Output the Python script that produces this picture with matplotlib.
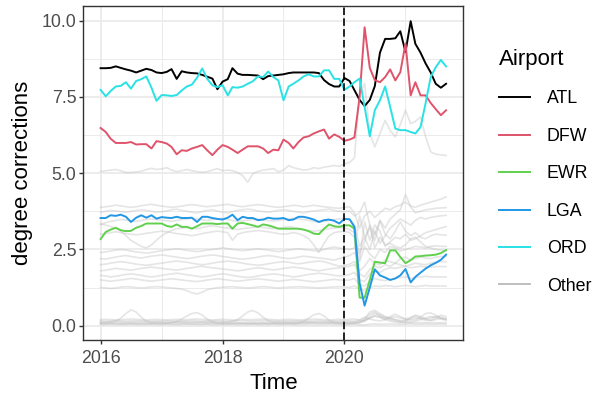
import matplotlib
matplotlib.use("Agg")
import matplotlib.pyplot as plt
import matplotlib.dates as mdates
from matplotlib.lines import Line2D
from matplotlib.ticker import MultipleLocator, FormatStrFormatter
import pandas as pd

# monthly series, Jan 2016 - Sep 2021
months = pd.date_range("2016-01-01", "2021-09-01", freq="MS")
covid_start = pd.Timestamp("2020-01-01")

atl = [8.44, 8.44, 8.45, 8.50, 8.45, 8.40, 8.36, 8.30, 8.36, 8.42, 8.38, 8.30,
       8.28, 8.32, 8.41, 8.09, 8.34, 8.30, 8.28, 8.27, 8.22, 8.16, 8.10, 7.75,
       8.00, 8.08, 8.44, 8.26, 8.22, 8.22, 8.21, 8.20, 8.08, 8.18, 8.20, 8.22,
       8.24, 8.28, 8.30, 8.30, 8.30, 8.30, 8.30, 8.28, 8.05, 7.92, 7.84, 7.84,
       8.12, 8.02, 7.72, 7.40, 7.20, 7.40, 7.85, 8.95, 9.40, 9.40, 9.42, 9.65,
       8.97, 9.98, 9.24, 8.95, 8.60, 8.30, 7.93, 7.80, 7.93]
dfw = [6.48, 6.35, 6.13, 5.99, 5.99, 5.99, 6.02, 5.94, 5.95, 5.95, 5.81, 6.05,
       6.02, 5.97, 5.86, 5.62, 5.75, 5.73, 5.81, 5.86, 5.92, 5.75, 5.59, 5.77,
       5.92, 5.86, 5.77, 5.66, 5.77, 5.88, 5.88, 5.88, 5.81, 5.66, 5.77, 5.75,
       6.10, 5.99, 5.81, 6.02, 6.17, 6.21, 6.30, 6.37, 6.43, 6.13, 6.27, 6.19,
       6.06, 6.10, 6.17, 7.50, 9.78, 8.45, 8.05, 7.98, 8.15, 8.40, 8.04, 8.31,
       9.25, 7.55, 7.98, 7.55, 7.55, 7.30, 7.10, 6.90, 7.06]
ewr = [2.84, 3.07, 3.15, 3.21, 3.13, 3.10, 3.11, 3.21, 3.27, 3.35, 3.35, 3.35,
       3.35, 3.27, 3.24, 3.32, 3.24, 3.24, 3.18, 3.26, 3.35, 3.35, 3.35, 3.33,
       3.35, 3.35, 3.18, 3.35, 3.37, 3.33, 3.29, 3.24, 3.32, 3.29, 3.24, 3.18,
       3.18, 3.18, 3.18, 3.18, 3.15, 3.10, 3.02, 3.00, 3.18, 3.32, 3.26, 3.24,
       3.29, 3.29, 3.18, 0.92, 0.92, 1.50, 2.10, 2.07, 2.05, 2.47, 2.47, 2.25,
       2.05, 2.15, 2.27, 2.28, 2.30, 2.31, 2.33, 2.38, 2.48]
lga = [3.53, 3.53, 3.62, 3.60, 3.64, 3.57, 3.40, 3.54, 3.62, 3.54, 3.62, 3.51,
       3.56, 3.54, 3.53, 3.57, 3.53, 3.53, 3.54, 3.40, 3.57, 3.57, 3.53, 3.50,
       3.48, 3.54, 3.64, 3.46, 3.57, 3.53, 3.53, 3.46, 3.48, 3.54, 3.51, 3.51,
       3.53, 3.46, 3.48, 3.57, 3.57, 3.53, 3.48, 3.40, 3.46, 3.48, 3.44, 3.35,
       3.50, 3.49, 3.24, 1.40, 0.66, 1.25, 1.85, 1.65, 1.58, 1.50, 1.55, 1.65,
       1.86, 1.42, 1.60, 1.74, 1.87, 1.98, 2.06, 2.16, 2.33]
ord_ = [7.73, 7.52, 7.69, 7.84, 7.86, 7.98, 7.77, 8.02, 8.08, 8.17, 7.80, 7.37,
        7.56, 7.55, 7.53, 7.56, 7.71, 7.84, 7.90, 8.13, 8.43, 8.09, 7.88, 7.82,
        7.88, 7.55, 7.82, 7.80, 7.84, 7.93, 8.01, 8.17, 8.15, 8.33, 8.15, 8.04,
        7.39, 7.84, 7.93, 8.04, 8.17, 8.24, 8.17, 8.17, 8.37, 8.37, 8.09, 8.09,
        7.73, 7.84, 7.98, 8.10, 7.17, 6.21, 7.06, 7.39, 7.84, 7.17, 6.46, 6.41,
        6.41, 6.35, 6.30, 6.51, 7.28, 8.15, 8.47, 8.71, 8.50]

# remaining airports, drawn in grey
other_a = [5.05, 5.08, 5.10, 5.12, 5.08, 5.02, 5.02, 5.04, 5.06, 5.12, 5.16, 5.12,
           5.14, 5.18, 5.10, 5.05, 5.08, 5.12, 5.08, 5.05, 5.03, 5.05, 5.10, 5.15,
           5.08, 5.10, 5.08, 5.02, 4.92, 4.70, 4.98, 5.06, 5.10, 5.12, 5.15, 5.05,
           5.10, 5.25, 5.18, 5.14, 5.10, 5.12, 5.18, 5.15, 5.20, 5.22, 5.25, 5.22,
           5.30, 5.35, 5.50, 7.60, 7.95, 6.30, 5.86, 6.30, 6.73, 6.40, 6.19, 6.60,
           7.06, 6.62, 6.70, 6.84, 6.20, 5.70, 5.62, 5.60, 5.58]
other_b = [3.88, 3.90, 3.92, 3.95, 3.93, 3.90, 3.88, 3.90, 3.93, 3.96, 3.98, 3.95,
           3.92, 3.90, 3.88, 3.90, 3.92, 3.95, 3.97, 3.95, 3.92, 3.90, 3.92, 3.94,
           3.96, 3.98, 3.95, 3.92, 3.90, 3.93, 3.95, 3.97, 3.95, 3.92, 3.90, 3.88,
           3.90, 3.92, 3.95, 3.93, 3.90, 3.92, 3.95, 3.92, 3.90, 3.88, 3.86, 3.85,
           3.88, 3.90, 3.70, 3.20, 3.60, 3.75, 3.55, 3.70, 3.85, 3.80, 3.90, 3.95,
           4.05, 3.92, 3.88, 3.95, 4.00, 4.05, 4.10, 4.15, 4.22]
other_c = [3.72, 3.75, 3.78, 3.76, 3.74, 3.72, 3.75, 3.78, 3.80, 3.78, 3.75, 3.72,
           3.74, 3.76, 3.80, 3.82, 3.78, 3.75, 3.72, 3.70, 3.74, 3.78, 3.80, 3.76,
           3.72, 3.70, 3.74, 3.78, 3.80, 3.82, 3.80, 3.76, 3.74, 3.72, 3.75, 3.78,
           3.80, 3.78, 3.75, 3.72, 3.70, 3.74, 3.76, 3.78, 3.80, 3.82, 3.78, 3.75,
           3.74, 3.76, 3.60, 3.70, 4.05, 3.30, 3.00, 3.45, 3.20, 3.50, 3.65, 3.80,
           4.30, 3.90, 3.70, 3.75, 3.80, 3.82, 3.85, 3.86, 3.87]
other_d = [3.30, 3.38, 3.42, 3.45, 3.48, 3.46, 3.44, 3.42, 3.45, 3.48, 3.50, 3.48,
           3.46, 3.44, 3.42, 3.45, 3.48, 3.50, 3.52, 3.50, 3.47, 3.45, 3.48, 3.50,
           3.52, 3.48, 3.45, 3.42, 3.44, 3.46, 3.48, 3.50, 3.47, 3.45, 3.43, 3.45,
           3.48, 3.50, 3.52, 3.50, 3.48, 3.45, 3.42, 3.40, 3.42, 3.45, 3.48, 3.50,
           3.52, 3.48, 3.30, 2.60, 2.90, 2.50, 3.10, 2.70, 2.95, 3.20, 3.35, 3.50,
           3.40, 3.30, 3.45, 3.55, 3.50, 3.55, 3.58, 3.60, 3.62]
other_e = [3.35, 3.30, 3.25, 3.20, 3.10, 2.95, 2.80, 2.70, 2.60, 2.55, 2.65, 2.80,
           2.95, 3.05, 3.12, 3.18, 3.20, 3.22, 3.20, 3.18, 3.22, 3.25, 3.28, 3.25,
           3.22, 3.20, 3.18, 3.15, 3.18, 3.20, 3.22, 3.25, 3.22, 3.20, 3.18, 3.20,
           3.22, 3.25, 3.22, 3.18, 3.15, 3.12, 3.10, 3.12, 3.15, 3.18, 3.20, 3.22,
           3.20, 3.15, 3.05, 2.20, 3.40, 2.80, 3.30, 3.10, 2.60, 2.75, 2.90, 2.85,
           3.00, 2.80, 2.85, 2.95, 3.05, 3.10, 3.15, 3.20, 3.25]
other_f = [3.00, 3.02, 3.05, 3.08, 3.05, 3.02, 3.00, 2.98, 3.00, 3.03, 3.05, 3.08,
           3.10, 3.08, 3.05, 3.02, 3.00, 2.98, 2.95, 2.98, 3.02, 3.05, 3.08, 3.10,
           3.08, 3.05, 2.80, 3.00, 3.05, 3.08, 3.10, 3.12, 3.10, 3.08, 3.05, 3.02,
           3.00, 3.02, 3.05, 3.02, 2.95, 2.85, 2.65, 2.40, 2.70, 2.95, 3.05, 3.08,
           3.10, 3.05, 2.90, 2.40, 2.75, 3.30, 2.55, 2.90, 2.65, 2.70, 2.60, 2.55,
           2.65, 2.85, 2.90, 2.75, 2.60, 2.55, 2.50, 2.48, 2.45]
other_g = [2.40, 2.42, 2.45, 2.48, 2.50, 2.48, 2.45, 2.42, 2.40, 2.38, 2.40, 2.43,
           2.46, 2.48, 2.50, 2.52, 2.50, 2.47, 2.45, 2.43, 2.45, 2.48, 2.50, 2.52,
           2.55, 2.53, 2.50, 2.48, 2.46, 2.48, 2.50, 2.52, 2.50, 2.48, 2.45, 2.43,
           2.45, 2.48, 2.50, 2.52, 2.50, 2.48, 2.46, 2.45, 2.50, 2.55, 2.58, 2.55,
           2.52, 2.50, 2.55, 3.60, 2.90, 3.20, 2.80, 3.45, 3.00, 2.85, 3.10, 3.40,
           3.10, 2.95, 3.05, 2.90, 2.85, 2.95, 3.00, 2.98, 2.97]
other_h = [2.20, 2.18, 2.22, 2.25, 2.28, 2.30, 2.27, 2.24, 2.22, 2.25, 2.28, 2.30,
           2.32, 2.30, 2.27, 2.25, 2.22, 2.20, 2.22, 2.25, 2.28, 2.30, 2.32, 2.30,
           2.27, 2.25, 2.22, 2.20, 2.18, 2.20, 2.22, 2.25, 2.28, 2.30, 2.28, 2.25,
           2.22, 2.20, 2.22, 2.25, 2.28, 2.26, 2.24, 2.22, 2.20, 2.18, 2.15, 2.20,
           2.25, 2.30, 2.40, 2.10, 2.60, 2.35, 2.20, 2.50, 2.40, 2.60, 2.55, 2.45,
           2.50, 2.55, 2.60, 2.58, 2.55, 2.60, 2.62, 2.60, 2.60]
other_i = [2.00, 2.02, 2.05, 2.08, 2.10, 2.08, 2.05, 2.02, 2.00, 1.98, 2.00, 2.03,
           2.05, 2.08, 2.10, 2.12, 2.10, 2.08, 2.05, 2.02, 2.00, 2.02, 2.05, 2.08,
           2.10, 2.12, 2.10, 2.08, 2.05, 2.02, 2.00, 1.98, 2.00, 2.03, 2.06, 2.08,
           2.10, 2.08, 2.05, 2.03, 2.05, 2.08, 2.10, 2.12, 2.10, 2.05, 2.00, 1.95,
           1.98, 2.02, 2.10, 1.80, 1.95, 2.20, 2.05, 2.00, 2.15, 2.10, 2.05, 2.20,
           2.25, 2.15, 2.20, 2.25, 2.22, 2.20, 2.25, 2.27, 2.27]
other_j = [1.80, 1.82, 1.85, 1.88, 1.86, 1.84, 1.82, 1.85, 1.88, 1.90, 1.92, 1.90,
           1.88, 1.86, 1.84, 1.82, 1.85, 1.88, 1.90, 1.93, 1.95, 1.92, 1.90, 1.88,
           1.86, 1.84, 1.82, 1.80, 1.82, 1.85, 1.88, 1.90, 1.88, 1.85, 1.83, 1.85,
           1.88, 1.90, 1.92, 1.90, 1.88, 1.85, 1.82, 1.80, 1.83, 1.86, 1.88, 1.90,
           1.92, 1.95, 2.00, 1.70, 1.60, 1.85, 1.95, 1.90, 2.00, 1.95, 2.05, 2.00,
           1.95, 2.00, 2.05, 2.02, 2.00, 2.05, 2.08, 2.10, 2.10]
other_k = [1.65, 1.63, 1.60, 1.62, 1.65, 1.68, 1.70, 1.68, 1.65, 1.62, 1.60, 1.62,
           1.65, 1.68, 1.70, 1.72, 1.70, 1.67, 1.65, 1.62, 1.60, 1.62, 1.65, 1.68,
           1.70, 1.68, 1.65, 1.62, 1.60, 1.58, 1.60, 1.63, 1.66, 1.68, 1.70, 1.68,
           1.65, 1.63, 1.60, 1.62, 1.65, 1.68, 1.70, 1.72, 1.70, 1.68, 1.65, 1.63,
           1.65, 1.68, 1.75, 1.50, 1.45, 1.70, 1.80, 1.75, 1.85, 1.90, 1.88, 1.92,
           1.95, 1.90, 1.92, 1.95, 1.93, 1.92, 1.94, 1.94, 1.94]
other_l = [1.50, 1.48, 1.46, 1.48, 1.50, 1.52, 1.55, 1.53, 1.50, 1.48, 1.46, 1.48,
           1.50, 1.52, 1.54, 1.52, 1.50, 1.48, 1.46, 1.45, 1.47, 1.50, 1.52, 1.54,
           1.52, 1.50, 1.48, 1.46, 1.48, 1.50, 1.52, 1.54, 1.52, 1.50, 1.48, 1.46,
           1.48, 1.50, 1.52, 1.50, 1.48, 1.46, 1.44, 1.46, 1.48, 1.50, 1.52, 1.50,
           1.48, 1.50, 1.55, 1.35, 1.30, 1.45, 1.55, 1.50, 1.48, 1.52, 1.55, 1.58,
           1.60, 1.55, 1.58, 1.60, 1.62, 1.60, 1.60, 1.60, 1.60]
other_m = [1.25, 1.24, 1.22, 1.24, 1.26, 1.28, 1.27, 1.25, 1.24, 1.25, 1.27, 1.28,
           1.27, 1.25, 1.24, 1.22, 1.20, 1.15, 1.08, 1.04, 1.10, 1.18, 1.22, 1.25,
           1.26, 1.27, 1.28, 1.26, 1.25, 1.24, 1.25, 1.27, 1.28, 1.27, 1.25, 1.24,
           1.25, 1.26, 1.27, 1.28, 1.27, 1.26, 1.25, 1.24, 1.25, 1.26, 1.27, 1.28,
           1.27, 1.26, 1.30, 1.20, 1.15, 1.25, 1.30, 1.28, 1.32, 1.30, 1.28, 1.30,
           1.32, 1.30, 1.28, 1.30, 1.32, 1.30, 1.30, 1.30, 1.30]
other_n = [0.10, 0.10, 0.12, 0.15, 0.25, 0.40, 0.52, 0.45, 0.28, 0.15, 0.10, 0.10,
           0.10, 0.10, 0.10, 0.11, 0.10, 0.10, 0.10, 0.10, 0.11, 0.10, 0.10, 0.10,
           0.10, 0.10, 0.11, 0.10, 0.10, 0.10, 0.10, 0.10, 0.10, 0.11, 0.10, 0.10,
           0.10, 0.10, 0.10, 0.10, 0.10, 0.11, 0.10, 0.10, 0.10, 0.10, 0.10, 0.10,
           0.10, 0.10, 0.10, 0.12, 0.20, 0.45, 0.50, 0.40, 0.30, 0.25, 0.20, 0.15,
           0.12, 0.10, 0.10, 0.10, 0.10, 0.10, 0.10, 0.10, 0.10]
other_o = [0.08, 0.08, 0.09, 0.08, 0.08, 0.08, 0.09, 0.08, 0.08, 0.08, 0.08, 0.09,
           0.08, 0.08, 0.10, 0.15, 0.22, 0.32, 0.40, 0.43, 0.35, 0.22, 0.12, 0.09,
           0.08, 0.08, 0.08, 0.09, 0.08, 0.08, 0.08, 0.08, 0.09, 0.08, 0.08, 0.08,
           0.08, 0.09, 0.08, 0.08, 0.08, 0.08, 0.09, 0.08, 0.08, 0.08, 0.08, 0.08,
           0.08, 0.08, 0.09, 0.10, 0.15, 0.30, 0.40, 0.35, 0.28, 0.20, 0.15, 0.12,
           0.15, 0.25, 0.35, 0.30, 0.22, 0.18, 0.25, 0.35, 0.30]
other_p = [0.12, 0.12, 0.12, 0.13, 0.12, 0.12, 0.12, 0.12, 0.13, 0.12, 0.12, 0.12,
           0.12, 0.12, 0.12, 0.12, 0.13, 0.12, 0.12, 0.12, 0.12, 0.12, 0.13, 0.12,
           0.12, 0.12, 0.14, 0.20, 0.32, 0.45, 0.50, 0.42, 0.28, 0.16, 0.12, 0.12,
           0.12, 0.12, 0.12, 0.12, 0.13, 0.12, 0.12, 0.12, 0.12, 0.12, 0.12, 0.12,
           0.12, 0.12, 0.12, 0.15, 0.25, 0.38, 0.45, 0.32, 0.25, 0.30, 0.38, 0.30,
           0.22, 0.18, 0.20, 0.28, 0.40, 0.42, 0.35, 0.25, 0.20]
other_q = [0.06, 0.06, 0.06, 0.07, 0.06, 0.06, 0.06, 0.06, 0.07, 0.06, 0.06, 0.06,
           0.06, 0.06, 0.06, 0.06, 0.07, 0.06, 0.06, 0.06, 0.06, 0.06, 0.07, 0.06,
           0.06, 0.06, 0.06, 0.06, 0.07, 0.06, 0.06, 0.06, 0.06, 0.06, 0.07, 0.06,
           0.06, 0.06, 0.06, 0.08, 0.14, 0.25, 0.36, 0.40, 0.32, 0.18, 0.10, 0.07,
           0.06, 0.06, 0.07, 0.10, 0.18, 0.25, 0.32, 0.28, 0.20, 0.15, 0.12, 0.10,
           0.10, 0.12, 0.15, 0.20, 0.26, 0.30, 0.28, 0.22, 0.18]
other_r = [0.16, 0.15, 0.16, 0.17, 0.16, 0.15, 0.16, 0.16, 0.17, 0.16, 0.15, 0.16,
           0.16, 0.17, 0.16, 0.15, 0.16, 0.16, 0.17, 0.16, 0.15, 0.16, 0.16, 0.17,
           0.16, 0.15, 0.16, 0.16, 0.17, 0.16, 0.15, 0.16, 0.16, 0.17, 0.16, 0.15,
           0.16, 0.16, 0.17, 0.16, 0.15, 0.16, 0.16, 0.17, 0.16, 0.15, 0.16, 0.16,
           0.17, 0.16, 0.15, 0.20, 0.28, 0.22, 0.18, 0.16, 0.20, 0.24, 0.20, 0.17,
           0.18, 0.22, 0.26, 0.22, 0.18, 0.17, 0.20, 0.24, 0.22]
other_s = [0.04, 0.04, 0.05, 0.04, 0.04, 0.04, 0.05, 0.04, 0.04, 0.04, 0.05, 0.04,
           0.04, 0.05, 0.04, 0.04, 0.04, 0.05, 0.04, 0.04, 0.04, 0.05, 0.04, 0.04,
           0.04, 0.04, 0.05, 0.04, 0.04, 0.04, 0.05, 0.04, 0.04, 0.04, 0.05, 0.04,
           0.04, 0.05, 0.04, 0.04, 0.04, 0.05, 0.04, 0.04, 0.04, 0.05, 0.04, 0.04,
           0.04, 0.04, 0.05, 0.03, 0.03, 0.05, 0.06, 0.05, 0.05, 0.06, 0.05, 0.05,
           0.05, 0.06, 0.05, 0.05, 0.06, 0.05, 0.05, 0.06, 0.05]
other_t = [0.20, 0.21, 0.20, 0.19, 0.20, 0.21, 0.22, 0.21, 0.20, 0.19, 0.20, 0.21,
           0.20, 0.19, 0.20, 0.21, 0.20, 0.20, 0.21, 0.22, 0.21, 0.20, 0.19, 0.20,
           0.21, 0.20, 0.19, 0.20, 0.21, 0.20, 0.20, 0.21, 0.22, 0.21, 0.20, 0.19,
           0.20, 0.21, 0.20, 0.19, 0.20, 0.21, 0.22, 0.21, 0.20, 0.19, 0.20, 0.21,
           0.20, 0.21, 0.22, 0.18, 0.16, 0.25, 0.32, 0.28, 0.22, 0.26, 0.30, 0.25,
           0.22, 0.28, 0.32, 0.26, 0.22, 0.25, 0.30, 0.28, 0.24]

airports = ["ATL", "DFW", "EWR", "LGA", "ORD"]
airport_series = [atl, dfw, ewr, lga, ord_]
airport_colors = ["#000000", "#DF536B", "#61D04F", "#2297E6", "#28E2E5"]
other_series = [other_a, other_b, other_c, other_d, other_e, other_f, other_g,
                other_h, other_i, other_j, other_k, other_l, other_m, other_n,
                other_o, other_p, other_q, other_r, other_s, other_t]
OTHER_COLOR = "#bebebe"

plt.rcParams["font.family"] = ["Liberation Sans", "DejaVu Sans"]

fig = plt.figure(figsize=(5.98, 3.96), dpi=100)
ax = fig.add_axes([0.1393, 0.1414, 0.6355, 0.8434])

for ys in other_series:
    ax.plot(months, ys, color=OTHER_COLOR, lw=1.2, alpha=0.4, solid_joinstyle="round")
for name, ys, col in zip(airports, airport_series, airport_colors):
    ax.plot(months, ys, color=col, lw=1.4, solid_joinstyle="round")

ax.axvline(covid_start, color="black", lw=1.2, dashes=(4.5, 2))
ax.margins(0.05)

# theme_bw look
ax.xaxis.set_major_locator(mdates.YearLocator(2))
ax.xaxis.set_minor_locator(mdates.YearLocator(1))
ax.xaxis.set_major_formatter(mdates.DateFormatter("%Y"))
ax.yaxis.set_major_locator(MultipleLocator(2.5))
ax.yaxis.set_minor_locator(MultipleLocator(1.25))
ax.yaxis.set_major_formatter(FormatStrFormatter("%.1f"))
ax.grid(which="major", color="#ebebeb", lw=1.3)
ax.grid(which="minor", color="#ebebeb", lw=0.7)
ax.set_axisbelow(True)
for sp in ax.spines.values():
    sp.set_color("#333333")
    sp.set_linewidth(1.0)
ax.tick_params(which="major", length=3, width=1.0, color="#333333",
               labelcolor="#4d4d4d", labelsize=12.8, pad=2)
ax.tick_params(axis="x", which="major", pad=4)
ax.tick_params(which="minor", length=0)

ax.set_xlabel("Time", fontsize=16)
ax.set_ylabel("degree corrections", fontsize=16)
ax.xaxis.set_label_coords(0.5, -0.1)
ax.yaxis.set_label_coords(-0.132, 0.5)

handles = [Line2D([], [], color=c, lw=1.4) for c in airport_colors]
handles.append(Line2D([], [], color=OTHER_COLOR, lw=1.4))
fig.legend(handles, airports + ["Other"], loc="upper left",
           bbox_to_anchor=(499 / 598, 1 - 49 / 396), frameon=False,
           title="Airport", title_fontsize=16, fontsize=12.8,
           handlelength=1.75, handletextpad=0.95, labelspacing=1.15,
           alignment="left", borderpad=0, borderaxespad=0)

fig.savefig("out.png", dpi=100)
